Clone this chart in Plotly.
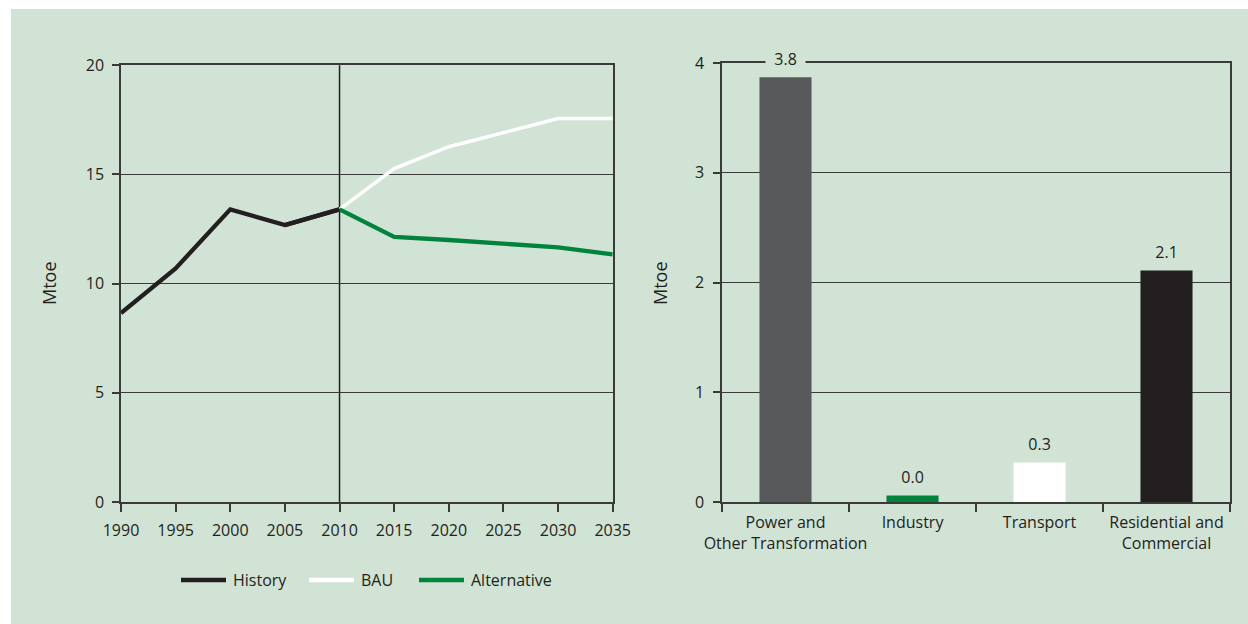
import plotly.graph_objects as go

# ---------------- data ----------------
hist_years = [1990, 1995, 2000, 2005, 2010]
history = [8.65, 10.7, 13.4, 12.68, 13.4]
proj_years = [2010, 2015, 2020, 2025, 2030, 2035]
bau = [13.4, 15.27, 16.27, 16.9, 17.56, 17.56]
alternative = [13.4, 12.14, 12.0, 11.82, 11.66, 11.34]
series_names = ["History", "BAU", "Alternative"]

sectors = ["Power and<br>Other Transformation", "Industry", "Transport", "Residential and<br>Commercial"]
sector_values = [3.87, 0.06, 0.36, 2.11]
sector_labels = ["3.8", "0.0", "0.3", "2.1"]

year_ticks = list(range(1990, 2036, 5))

# ---------------- styles ----------------
W, H = 1248, 624
BG = "#d1e3d5"
DARK = "#231f20"
AX = "#3a3a3a"
GREEN = "#00843d"
FONT = "Open Sans"
FS = 16
series_colors = [DARK, "#ffffff", GREEN]
bar_colors = ["#58595b", GREEN, "#ffffff", DARK]

def px(x):
    return x / W

def py(y):
    return (H - y) / H

fig = go.Figure()

fig.add_trace(go.Scatter(x=hist_years, y=history, mode="lines", name=series_names[0],
                         line=dict(color=series_colors[0], width=4.3), xaxis="x", yaxis="y",
                         showlegend=False))
fig.add_trace(go.Scatter(x=proj_years, y=bau, mode="lines", name=series_names[1],
                         line=dict(color=series_colors[1], width=3.5), xaxis="x", yaxis="y",
                         showlegend=False))
fig.add_trace(go.Scatter(x=proj_years, y=alternative, mode="lines", name=series_names[2],
                         line=dict(color=series_colors[2], width=4.3), xaxis="x", yaxis="y",
                         showlegend=False))
fig.add_trace(go.Scatter(x=hist_years[-2:], y=history[-2:], mode="lines",
                         line=dict(color=series_colors[0], width=4.3), xaxis="x", yaxis="y",
                         showlegend=False, hoverinfo="skip"))

fig.add_trace(go.Bar(x=sectors, y=sector_values, marker=dict(color=bar_colors, line=dict(width=0)),
                     width=0.41, xaxis="x2", yaxis="y2", showlegend=False))

axis_common = dict(showline=True, linecolor=AX, linewidth=1.5, ticks="outside",
                   tickcolor=AX, tickwidth=1.5, showgrid=True, gridcolor=AX, gridwidth=1.2,
                   zeroline=False, automargin=False, mirror=True,
                   tickfont=dict(family=FONT, size=FS, color=DARK))

fig.update_layout(
    width=W, height=H,
    margin=dict(l=0, r=0, t=0, b=0),
    paper_bgcolor=BG, plot_bgcolor=BG,
    font=dict(family=FONT, size=FS, color=DARK),
    xaxis=dict(axis_common, domain=[px(121), px(612.7)], range=[1990, 2035],
               tickvals=year_ticks, ticklen=8, showgrid=False, anchor="y", tickangle=0,
               ticklabelstandoff=5),
    yaxis=dict(axis_common, domain=[py(502), py(65.3)], range=[0, 20], dtick=5,
               ticklen=7, anchor="x", ticklabelstandoff=5),
    xaxis2=dict(axis_common, domain=[px(722), px(1230)], range=[-0.5, 3.5],
                tickson="boundaries", ticklen=8, showgrid=False, anchor="y2", tickangle=0,
                ticklabelstandoff=5),
    yaxis2=dict(axis_common, domain=[py(502), py(63)], range=[0, 4], dtick=1,
                ticklen=7, anchor="x2", ticklabelstandoff=6),
)

shapes = [
    dict(type="rect", xref="paper", yref="paper", x0=0, x1=px(11), y0=0, y1=1,
         fillcolor="white", line=dict(width=0), layer="below"),
    dict(type="rect", xref="paper", yref="paper", x0=0, x1=1, y0=py(9), y1=1,
         fillcolor="white", line=dict(width=0), layer="below"),
    dict(type="line", xref="x", yref="y", x0=2010, x1=2010, y0=0, y1=20.2,
         line=dict(color=DARK, width=1.5), layer="below"),
]

annotations = [
    dict(text="Mtoe", xref="paper", yref="paper", x=px(49), y=py(283), textangle=-90,
         showarrow=False, font=dict(family=FONT, size=18, color=DARK),
         xanchor="center", yanchor="middle"),
    dict(text="Mtoe", xref="paper", yref="paper", x=px(660), y=py(283), textangle=-90,
         showarrow=False, font=dict(family=FONT, size=18, color=DARK),
         xanchor="center", yanchor="middle"),
]

for cat, val, lab in zip(sectors, sector_values, sector_labels):
    annotations.append(dict(text="&nbsp;&nbsp;" + lab + "&nbsp;&nbsp;", xref="x2", yref="y2",
                            x=cat, y=val, yshift=18,
                            showarrow=False, bgcolor=BG, borderpad=0,
                            font=dict(family=FONT, size=FS, color=DARK),
                            xanchor="center", yanchor="middle"))

legend_x = [181, 309, 419]
legend_y = 580
for name, color, lx in zip(series_names, series_colors, legend_x):
    shapes.append(dict(type="line", xref="paper", yref="paper", x0=px(lx), x1=px(lx + 45),
                       y0=py(legend_y), y1=py(legend_y), line=dict(color=color, width=4.5)))
    annotations.append(dict(text=name, xref="paper", yref="paper", x=px(lx + 50), y=py(legend_y),
                            showarrow=False, xanchor="left", yanchor="middle",
                            font=dict(family=FONT, size=FS, color=DARK)))

fig.update_layout(shapes=shapes, annotations=annotations)

fig.write_html("out.html", config={"displayModeBar": False},
               post_script="document.body.style.margin='0';document.body.style.overflow='hidden';")
